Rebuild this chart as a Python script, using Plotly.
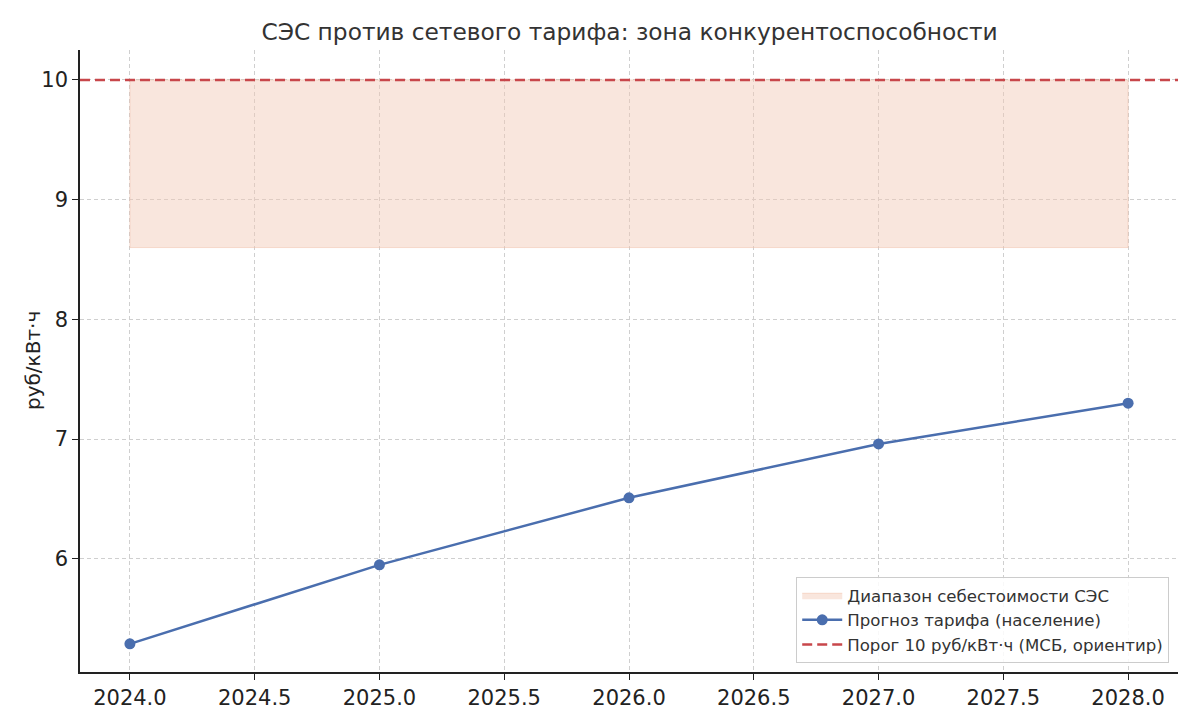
import plotly.graph_objects as go

years = [2024, 2025, 2026, 2027, 2028]
tariff = [5.29, 5.95, 6.51, 6.96, 7.30]
band_years = [2024, 2028]
band_low = 8.6
band_high = 10.0
threshold = 10.0
x_range = [2023.8, 2028.2]
y_range = [5.055, 10.25]

title = "СЭС против сетевого тарифа: зона конкурентоспособности"
ylabel = "руб/кВт·ч"
name_band = "Диапазон себестоимости СЭС"
name_tariff = "Прогноз тарифа (население)"
name_thr = "Порог 10 руб/кВт·ч (МСБ, ориентир)"

FONT = "DejaVu Sans"

fig = go.Figure()

fig.add_trace(go.Scatter(
    x=[band_years[0], band_years[1], band_years[1], band_years[0], band_years[0]],
    y=[band_low, band_low, band_high, band_high, band_low],
    fill="toself", mode="lines",
    fillcolor="rgba(241,200,180,0.45)",
    line=dict(color="rgba(241,190,165,0.5)", width=1),
    name=name_band, hoverinfo="skip",
))

fig.add_trace(go.Scatter(
    x=years, y=tariff, mode="lines+markers",
    line=dict(color="#4a6eae", width=2.5),
    marker=dict(color="#4a6eae", size=11),
    name=name_tariff,
))

fig.add_trace(go.Scatter(
    x=x_range, y=[threshold, threshold], mode="lines",
    line=dict(color="#c8474b", width=2.5, dash="10px,5px"),
    name=name_thr,
))

grid = dict(showgrid=True, gridcolor="#cfcfcf", griddash="4px,3px", gridwidth=1)

fig.update_layout(
    width=1200, height=720,
    paper_bgcolor="white", plot_bgcolor="white",
    margin=dict(l=72, r=30, t=42, b=56),
    font=dict(family=FONT, size=21, color="#222222"),
    title=dict(text=title, x=0.518, xanchor="center", y=0.967, yanchor="middle",
               font=dict(family=FONT, size=23.3, color="#333333")),
    xaxis=dict(range=x_range, tickmode="array", automargin=False,
               tickvals=[2024.0, 2024.5, 2025.0, 2025.5, 2026.0, 2026.5, 2027.0, 2027.5, 2028.0],
               tickformat=".1f", ticks="outside", ticklen=6, tickcolor="#222",
               showline=True, linecolor="#222", linewidth=1.5, zeroline=False,
               tickfont=dict(size=21), **grid),
    yaxis=dict(range=y_range, tickvals=[6, 7, 8, 9, 10], ticks="outside", ticklen=6,
               tickcolor="#222", showline=True, linecolor="#222", linewidth=1.5,
               zeroline=False, tickfont=dict(size=21), automargin=False, **grid),
    legend=dict(x=0.992, y=0.0145, xanchor="right", yanchor="bottom",
                bgcolor="rgba(255,255,255,0.85)", bordercolor="#cccccc", borderwidth=1,
                font=dict(size=16.6, color="#333333"), traceorder="normal",
                tracegroupgap=1, itemwidth=40),
    showlegend=True,
    annotations=[dict(text=ylabel, xref="paper", yref="paper", x=0, y=0.5,
                      xanchor="center", yanchor="middle", xshift=-47, textangle=-90,
                      showarrow=False, font=dict(family=FONT, size=20, color="#222222"))],
)

fig.write_html("out.html")
